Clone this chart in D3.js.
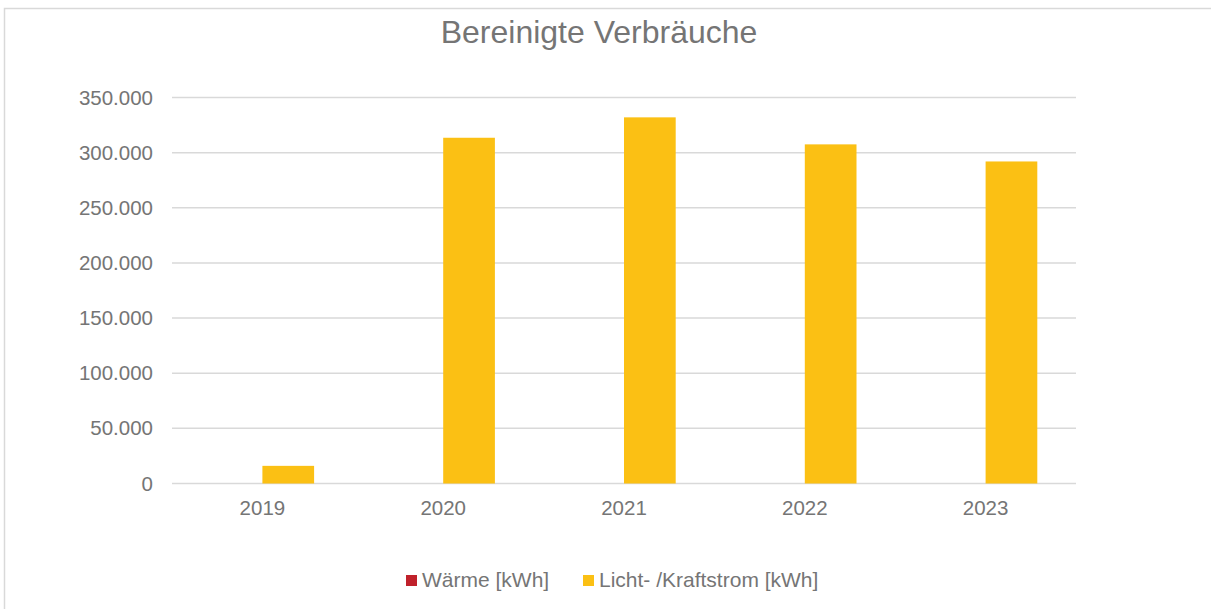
<!DOCTYPE html>
<meta charset="utf-8">
<html>
<head>
<script src="https://d3js.org/d3.v7.min.js"></script>
<style>
  body { margin: 0; background: #fff; }
  svg text { font-family: "Liberation Sans", Arial, sans-serif; fill: #757575; }
</style>
</head>
<body>
<svg id="chart"></svg>
<script>
  // data
  var years = ["2019", "2020", "2021", "2022", "2023"];
  var seriesNames = ["Wärme [kWh]", "Licht- /Kraftstrom [kWh]"];
  var waerme = [0, 0, 0, 0, 0];
  var strom = [16000, 313500, 332000, 307500, 292000];
  var yTicks = [0, 50000, 100000, 150000, 200000, 250000, 300000, 350000];
  var colors = ["#C0212B", "#FBC014"];

  var W = 1211, H = 609;
  var margin = {top: 97.5, left: 172, right: W - 1076, bottom: H - 483.5};
  var width = W - margin.left - margin.right,
      height = H - margin.top - margin.bottom;

  var svg = d3.select("#chart").attr("width", W).attr("height", H);

  // outer chart border
  svg.append("rect")
    .attr("x", 4.5).attr("y", 8.5)
    .attr("width", W).attr("height", H)
    .attr("fill", "none").attr("stroke", "#D9D9D9").attr("stroke-width", 1.5);

  svg.append("text")
    .attr("x", 599).attr("y", 43)
    .attr("text-anchor", "middle")
    .style("font-size", "32px")
    .text("Bereinigte Verbräuche");

  var g = svg.append("g")
    .attr("transform", "translate(" + margin.left + "," + margin.top + ")");

  var de = d3.formatLocale({decimal: ",", thousands: ".", grouping: [3], currency: ["", " €"]});
  var fmt = de.format(",.0f");

  var x = d3.scaleBand().domain(years).range([0, width]);
  var x1 = d3.scaleBand().domain([0, 1]).range([0, 103.4])
  var y = d3.scaleLinear().domain([0, 350000]).range([height, 0]);

  // gridlines
  g.selectAll(".grid").data(yTicks).enter().append("line")
    .attr("x1", 0).attr("x2", width)
    .attr("y1", function(d) { return y(d); })
    .attr("y2", function(d) { return y(d); })
    .attr("stroke", "#D9D9D9").attr("stroke-width", 1.5);

  // y axis labels
  var yAxis = g.append("g")
    .call(d3.axisLeft(y).tickValues(yTicks).tickFormat(fmt).tickSize(0).tickPadding(19));
  yAxis.select(".domain").remove();
  yAxis.selectAll("text").style("font-size", "20.5px").attr("fill", "#757575");

  // x axis labels
  var xAxis = g.append("g")
    .attr("transform", "translate(0," + height + ")")
    .call(d3.axisBottom(x).tickSize(0).tickPadding(17));
  xAxis.select(".domain").remove();
  xAxis.selectAll("text").style("font-size", "20.5px").attr("fill", "#757575");

  // bars
  var series = [waerme, strom];
  series.forEach(function(vals, si) {
    g.selectAll(".bar" + si).data(vals).enter().append("rect")
      .attr("x", function(d, i) { return x(years[i]) + x.bandwidth() / 2 - 51.7 + x1(si); })
      .attr("y", function(d) { return y(d); })
      .attr("width", x1.bandwidth())
      .attr("height", function(d) { return height - y(d); })
      .attr("fill", colors[si]);
  });

  // legend
  var legendX = [406, 583];
  var legend = svg.selectAll(".legend").data(seriesNames).enter().append("g")
    .attr("transform", function(d, i) { return "translate(" + legendX[i] + ",575)"; });
  legend.append("rect")
    .attr("width", 11).attr("height", 11)
    .attr("fill", function(d, i) { return colors[i]; });
  legend.append("text")
    .attr("x", 16).attr("y", 11.5)
    .style("font-size", "21px")
    .text(function(d) { return d; });
</script>
</body>
</html>
